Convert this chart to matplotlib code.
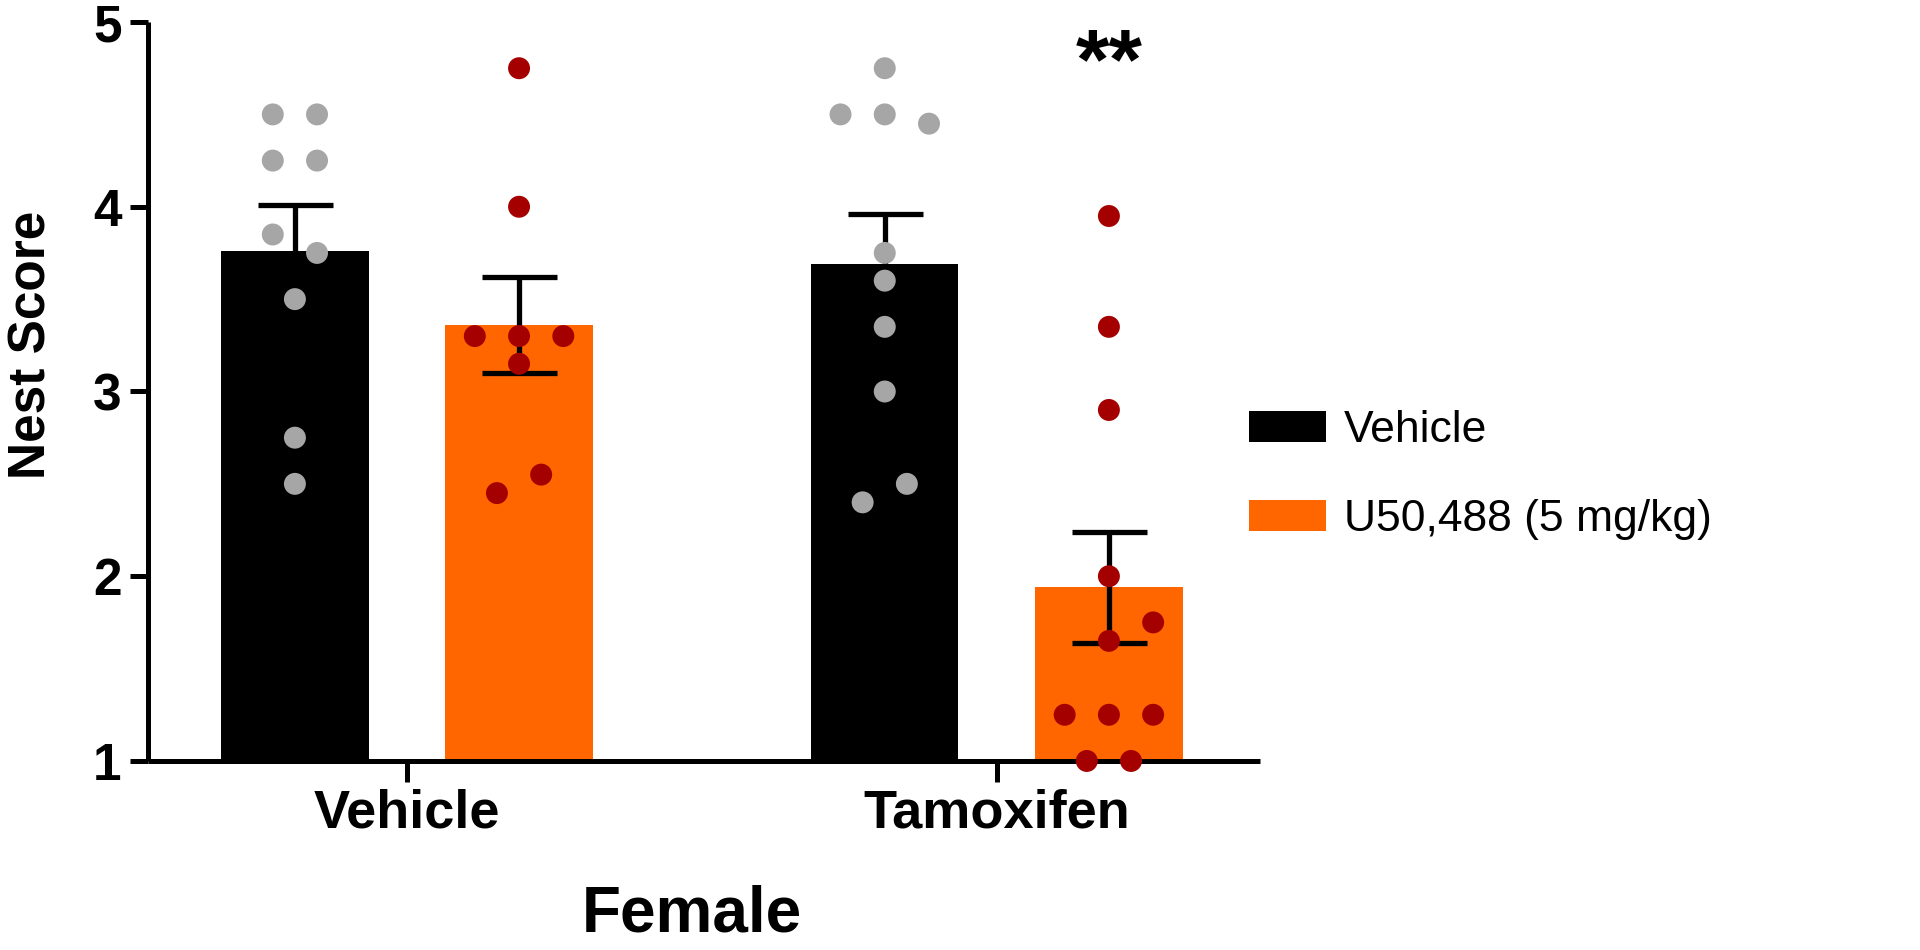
import numpy as np
import matplotlib.pyplot as plt
from matplotlib.patches import Patch

plt.rcParams['font.family'] = ['Liberation Sans', 'DejaVu Sans']

# group / series names
groups = ['Vehicle', 'Tamoxifen']
series = ['Vehicle', 'U50,488 (5 mg/kg)']

# bar means and SEM (rows: group, cols: series)
means = [[3.76, 3.36],
         [3.69, 1.94]]
sems = [[0.25, 0.26],
        [0.27, 0.30]]

# individual animals
veh_veh = [4.5, 4.5, 4.25, 4.25, 3.85, 3.75, 3.5, 2.75, 2.5]
veh_u50 = [4.75, 4.0, 3.3, 3.3, 3.3, 3.15, 2.55, 2.45]
tam_veh = [4.75, 4.5, 4.5, 4.45, 3.75, 3.6, 3.35, 3.0, 2.5, 2.4]
tam_u50 = [3.95, 3.35, 2.9, 2.0, 1.75, 1.65, 1.25, 1.25, 1.25, 1.0, 1.0]

# scatter column slots (one slot ~ one dot width)
veh_veh_cols = [-1, 1, -1, 1, -1, 1, 0, 0, 0]
veh_u50_cols = [0, 0, -2, 0, 2, 0, 1, -1]
tam_veh_cols = [0, -2, 0, 2, 0, 0, 0, 0, 1, -1]
tam_u50_cols = [0, 0, 0, 0, 2, 0, -2, 0, 2, -1, 1]

points = [[(veh_veh, veh_veh_cols), (veh_u50, veh_u50_cols)],
          [(tam_veh, tam_veh_cols), (tam_u50, tam_u50_cols)]]

bar_colors = ['black', '#FF6600']
dot_colors = ['#A6A6A6', '#A50000']

fig = plt.figure(figsize=(19.2, 9.5), dpi=100)
ax = fig.add_axes([0.0771, 0.199, 0.6562 - 0.0771, 0.9768 - 0.199])

width = 0.25
offset = 0.19
slot = 0.0375
x = np.arange(len(groups))

for j in range(len(series)):
    xs = x + (2 * j - 1) * offset
    m = [means[i][j] for i in range(len(groups))]
    s = [sems[i][j] for i in range(len(groups))]
    ax.bar(xs, [v - 1 for v in m], bottom=1, width=width, color=bar_colors[j],
           zorder=1, label=series[j])
    ax.errorbar(xs, m, yerr=s, fmt='none', ecolor='black', elinewidth=3.8,
                capsize=27, capthick=3.8, zorder=2)
    for i in range(len(groups)):
        vals, cols = points[i][j]
        ax.scatter(xs[i] + np.array(cols) * slot, vals, s=250,
                   color=dot_colors[j], edgecolors='none', zorder=3,
                   clip_on=False)

# significance marker
ax.text(x[1] + offset, 4.64, '**', ha='center', va='baseline', fontsize=62,
        fontweight='bold')

ax.set_ylim(1, 5)
ax.set_yticks([1, 2, 3, 4, 5])
ax.set_xlim(-0.439, 1.446)
ax.set_xticks(x)
ax.set_xticklabels(groups)

for sp in ['top', 'right']:
    ax.spines[sp].set_visible(False)
for sp in ['left', 'bottom']:
    ax.spines[sp].set_linewidth(3.6)
    ax.spines[sp].set_capstyle('butt')

ax.tick_params(axis='y', length=13, width=3.6, pad=6, labelsize=37)
ax.tick_params(axis='x', length=15, width=3.6, pad=5, labelsize=39)
for lab in ax.get_xticklabels() + ax.get_yticklabels():
    lab.set_fontweight('bold')

fig.text(32 / 1920, 1 - 345 / 950, 'Nest Score', rotation=90, ha='center',
         va='center', fontsize=37, fontweight='bold')
fig.text(692 / 1920, 1 - 914 / 950, 'Female', ha='center', va='center',
         fontsize=46, fontweight='bold')

handles = [Patch(facecolor=c, edgecolor='none') for c in bar_colors]
fig.legend(handles, series, loc='center left', bbox_to_anchor=(1249 / 1920, 1 - 475 / 950),
           frameon=False, fontsize=32, handlelength=1.73, handleheight=0.72,
           handletextpad=0.4, labelspacing=1.08, borderpad=0, borderaxespad=0)

fig.savefig('out.png', dpi=100)
